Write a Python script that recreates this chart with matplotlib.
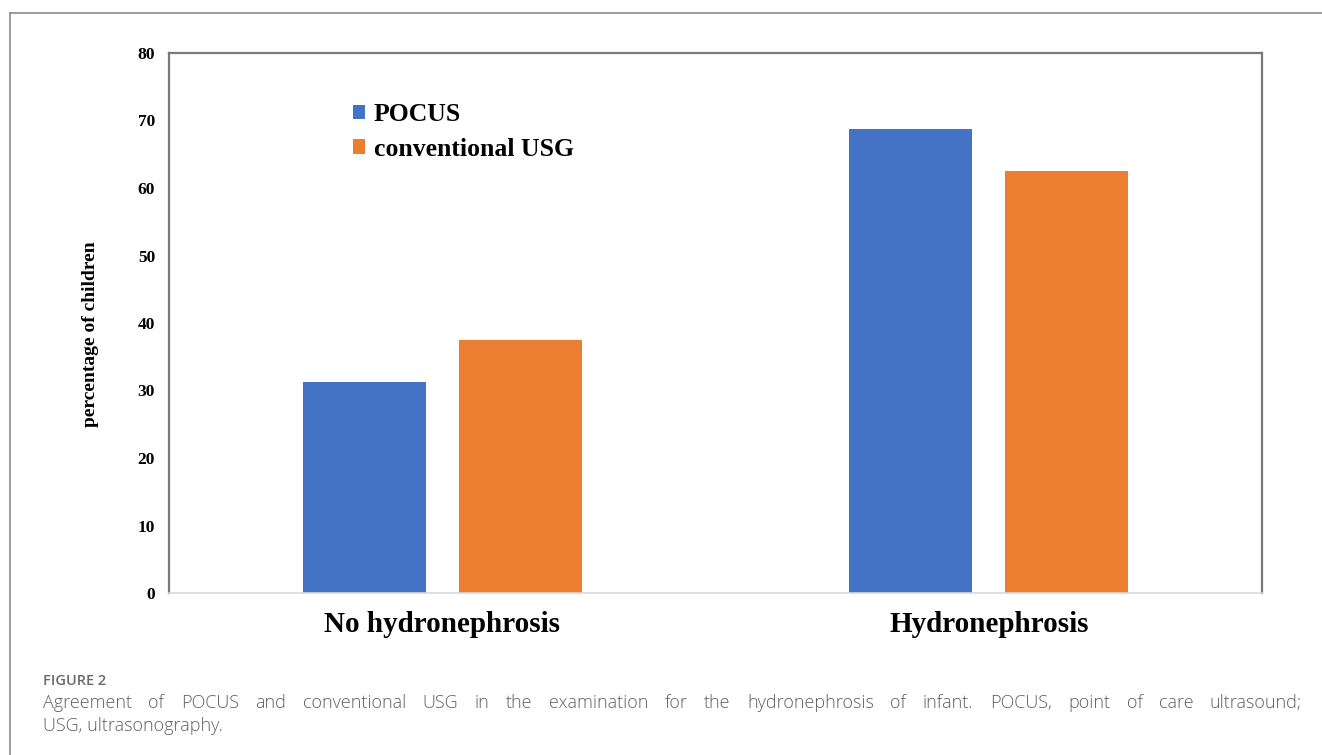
import matplotlib
matplotlib.use("Agg")
import matplotlib.pyplot as plt
import numpy as np

categories = ["No hydronephrosis", "Hydronephrosis"]
pocus = [31.25, 68.75]
conventional = [37.5, 62.5]
series_names = ["POCUS", "conventional USG"]
yticks = [0, 10, 20, 30, 40, 50, 60, 70, 80]

BLUE = "#4472C4"
ORANGE = "#ED7D31"
W, H = 1322, 755
fig = plt.figure(figsize=(W / 100, H / 100), dpi=100)
ax = fig.add_axes([169 / W, 1 - 593 / H, (1262 - 169) / W, (593 - 53) / H])

x = np.arange(len(categories))
bw = 0.225
off = 0.1425
ax.bar(x - off, pocus, bw, color=BLUE, label=series_names[0], zorder=2)
ax.bar(x + off, conventional, bw, color=ORANGE, label=series_names[1], zorder=2)

ax.set_xlim(-0.5, 1.5)
ax.set_ylim(0, 80)
ax.set_yticks(yticks)
ax.set_yticklabels([str(t) for t in yticks], fontfamily="Liberation Serif",
                   fontweight="bold", fontsize=12.5)
ax.set_xticks(x)
ax.set_xticklabels(categories, fontfamily="Liberation Serif", fontweight="bold",
                   fontsize=21)
ax.tick_params(axis="y", length=0, pad=10)
ax.tick_params(axis="x", length=0, pad=13)
for s in ["left", "top", "right"]:
    ax.spines[s].set_color("#7a7a7a")
    ax.spines[s].set_linewidth(1.6)
ax.spines["bottom"].set_color("#d9d9d9")
ax.spines["bottom"].set_linewidth(1.2)

ax.set_ylabel("percentage of children", fontfamily="Liberation Serif",
              fontweight="bold", fontsize=14)
ax.yaxis.set_label_coords(-0.064, 0.48)

ax.legend(loc="upper left", bbox_to_anchor=(0.168, 0.907), frameon=False,
          prop={"family": "Liberation Serif", "weight": "bold", "size": 18.5},
          handlelength=0.5, handleheight=0.5, handletextpad=0.32,
          labelspacing=0.45, borderaxespad=0, borderpad=0)

# outer frame
fig.add_artist(plt.Line2D([10 / W, 1.0], [1 - 13 / H, 1 - 13 / H], color="#8a8a8a", lw=1.2))
fig.add_artist(plt.Line2D([10 / W, 10 / W], [0, 1 - 13 / H], color="#8a8a8a", lw=1.2))

cap_font = dict(family="Open Sans", color="#606060")
fig.text(43 / W, 1 - 681 / H, "FIGURE 2", fontsize=10.5, va="center",
         fontweight="semibold", family="Open Sans", color="#6a6a6a")

line1 = ("Agreement of POCUS and conventional USG in the examination for the "
         "hydronephrosis of infant. POCUS, point of care ultrasound;").split()
line2 = "USG, ultrasonography."
fs = 13
fig.canvas.draw()
r = fig.canvas.get_renderer()
words = []
total = 0
for w in line1:
    t = fig.text(0, 0, w, fontsize=fs, va="center", fontweight="light", **cap_font)
    wd = t.get_window_extent(r).width
    words.append((t, wd))
    total += wd
x0, x1 = 43, 1302
gap = (x1 - x0 - total) / (len(words) - 1)
cx = x0
for t, wd in words:
    t.set_position((cx / W, 1 - 703 / H))
    cx += wd + gap
fig.text(43 / W, 1 - 726 / H, line2, fontsize=fs, va="center", fontweight="light", **cap_font)

fig.savefig("out.png", dpi=100)
